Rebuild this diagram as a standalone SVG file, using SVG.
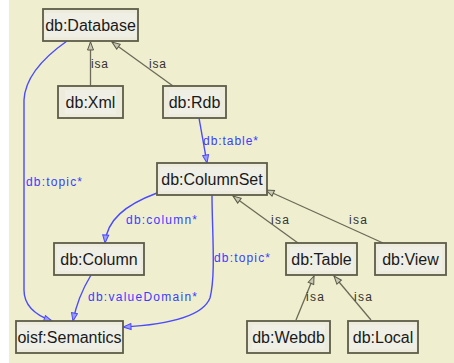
<svg xmlns="http://www.w3.org/2000/svg" width="454" height="363" viewBox="0 0 454 363">
<defs>
<style>
.box{fill:#ecebdc;stroke:#5c5c48;stroke-width:1.8}
.tbg{fill:#efefe6}
.nt{font-family:"Liberation Sans",Arial,sans-serif;font-size:16px;fill:#1a1a1a;text-anchor:middle}
.isa{fill:none;stroke:#6b6b58;stroke-width:1.3}
.rel{fill:none;stroke:#4a4aff;stroke-width:1.4}
.il{font-family:"Liberation Sans",Arial,sans-serif;font-size:12px;fill:#333}
.rl{font-family:"Liberation Sans",Arial,sans-serif;font-size:12px;fill:#3c3cff}
</style>
<marker id="ai" markerWidth="10" markerHeight="8" refX="9" refY="4" orient="auto" markerUnits="userSpaceOnUse">
<path d="M1,1 L9,4 L1,7 Z" fill="#c8c8b4" stroke="#5a5a48" stroke-width="1"/>
</marker>
<marker id="ar" markerWidth="10" markerHeight="8" refX="9" refY="4" orient="auto" markerUnits="userSpaceOnUse">
<path d="M1,1 L9,4 L1,7 Z" fill="#9a9aff" stroke="#4a4aff" stroke-width="1"/>
</marker>
</defs>
<rect x="0" y="0" width="454" height="363" fill="#efeecf"/>
<rect x="0" y="0" width="9" height="363" fill="#ffffff"/>
<g id="connectors">
<path class="isa" d="M90.5,86 L90.5,42" marker-end="url(#ai)"/>
<path class="isa" d="M173,86 L112,42" marker-end="url(#ai)"/>
<path class="rel" d="M67,41 C40,60 25,80 24,100 L24,290 C24,305 35,315 52,321" marker-end="url(#ar)"/>
<path class="rel" d="M199,118 L207,163" marker-end="url(#ar)"/>
<path class="rel" d="M157,193 C125,205 107,220 105,243" marker-end="url(#ar)"/>
<path class="rel" d="M212,195 C212,230 216,275 210,298 C202,318 160,325 123,327" marker-end="url(#ar)"/>
<path class="rel" d="M91,275 C82,290 76,305 73,321" marker-end="url(#ar)"/>
<path class="isa" d="M298,243 L233,196" marker-end="url(#ai)"/>
<path class="isa" d="M383,243 L266,190" marker-end="url(#ai)"/>
<path class="isa" d="M296,320 L314,276" marker-end="url(#ai)"/>
<path class="isa" d="M371,320 L334,276" marker-end="url(#ai)"/>
<text class="il" x="91" y="68" textLength="17" lengthAdjust="spacing">isa</text>
<text class="il" x="149" y="68" textLength="17" lengthAdjust="spacing">isa</text>
<text class="rl" x="26" y="186" textLength="56" lengthAdjust="spacing">db:topic*</text>
<text class="rl" x="203" y="145" textLength="55" lengthAdjust="spacing">db:table*</text>
<text class="rl" x="126" y="224" textLength="71" lengthAdjust="spacing">db:column*</text>
<text class="rl" x="214" y="262" textLength="56" lengthAdjust="spacing">db:topic*</text>
<text class="rl" x="88" y="301" textLength="109" lengthAdjust="spacing">db:valueDomain*</text>
<text class="il" x="271" y="224" textLength="18" lengthAdjust="spacing">isa</text>
<text class="il" x="349" y="224" textLength="18" lengthAdjust="spacing">isa</text>
<text class="il" x="306" y="301" textLength="18" lengthAdjust="spacing">isa</text>
<text class="il" x="354" y="301" textLength="18" lengthAdjust="spacing">isa</text>
</g>
<g id="n-database"><rect class="box" x="43" y="9" width="95" height="32"/><rect class="tbg" x="45" y="13" width="91" height="24"/><text class="nt" x="90.5" y="31">db:Database</text></g>
<g id="n-xml"><rect class="box" x="58" y="86" width="65" height="32"/><rect class="tbg" x="65" y="90" width="51" height="24"/><text class="nt" x="90.5" y="108">db:Xml</text></g>
<g id="n-rdb"><rect class="box" x="163" y="86" width="63" height="32"/><rect class="tbg" x="169" y="90" width="51" height="24"/><text class="nt" x="194.5" y="108">db:Rdb</text></g>
<g id="n-columnset"><rect class="box" x="157" y="163" width="110" height="32"/><rect class="tbg" x="160" y="167" width="104" height="24"/><text class="nt" x="212" y="185">db:ColumnSet</text></g>
<g id="n-column"><rect class="box" x="54" y="243" width="90" height="32"/><rect class="tbg" x="57" y="247" width="84" height="24"/><text class="nt" x="99" y="265">db:Column</text></g>
<g id="n-semantics"><rect class="box" x="16" y="321" width="107" height="32"/><rect class="tbg" x="17" y="325" width="105" height="24"/><text class="nt" x="69.5" y="343">oisf:Semantics</text></g>
<g id="n-table"><rect class="box" x="286" y="243" width="71" height="32"/><rect class="tbg" x="290" y="247" width="63" height="24"/><text class="nt" x="321.5" y="265">db:Table</text></g>
<g id="n-view"><rect class="box" x="375" y="243" width="71" height="32"/><rect class="tbg" x="379" y="247" width="63" height="24"/><text class="nt" x="410.5" y="265">db:View</text></g>
<g id="n-webdb"><rect class="box" x="247" y="321" width="83" height="32"/><rect class="tbg" x="252" y="325" width="73" height="24"/><text class="nt" x="288.5" y="343">db:Webdb</text></g>
<g id="n-local"><rect class="box" x="348" y="321" width="70" height="32"/><rect class="tbg" x="350" y="325" width="66" height="24"/><text class="nt" x="383" y="343">db:Local</text></g>
</svg>
